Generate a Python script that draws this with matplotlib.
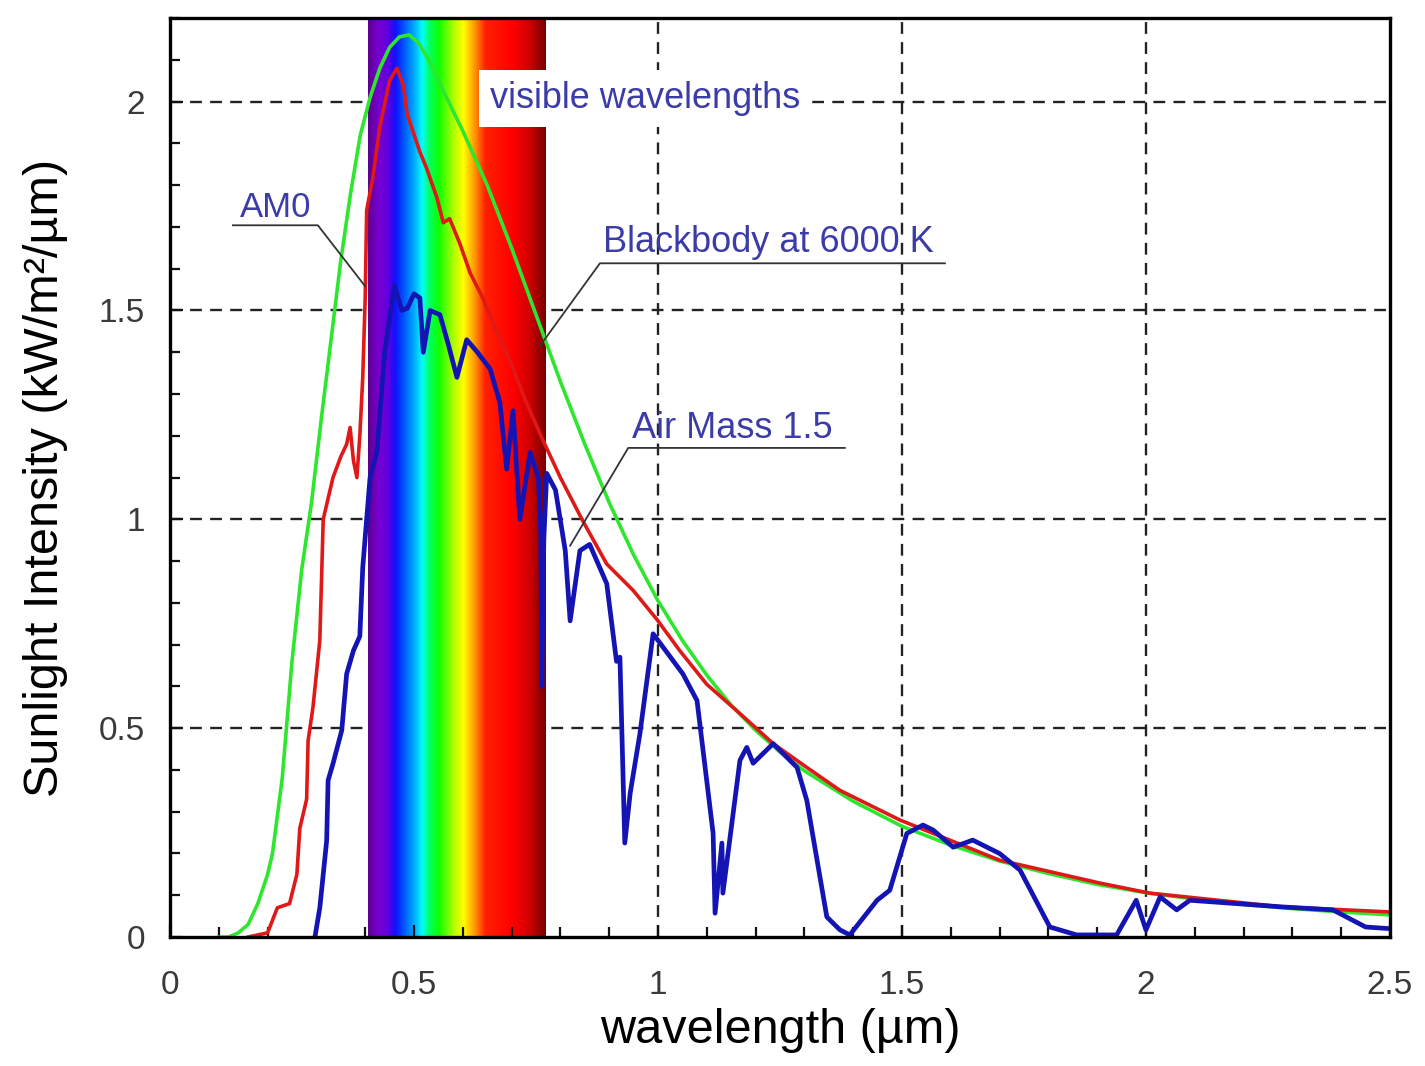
import numpy as np
import matplotlib.pyplot as plt
from matplotlib.colors import LinearSegmentedColormap

plt.rcParams['font.family'] = ['Liberation Sans', 'DejaVu Sans']

# Blackbody at 6000 K
bb_x = [0.10, 0.12, 0.14, 0.16, 0.18, 0.20, 0.21, 0.23, 0.25, 0.27, 0.29, 0.31,
        0.33, 0.35, 0.37, 0.39, 0.41, 0.43, 0.45, 0.47, 0.49, 0.51, 0.53, 0.55,
        0.60, 0.65, 0.70, 0.75, 0.80, 0.85, 0.90, 0.95, 1.00, 1.05, 1.10, 1.15,
        1.20, 1.25, 1.30, 1.40, 1.50, 1.60, 1.70, 1.80, 1.90, 2.00, 2.10, 2.20,
        2.30, 2.40, 2.50]
bb_y = [0.0, 0.0, 0.01, 0.03, 0.08, 0.15, 0.20, 0.38, 0.66, 0.88, 1.04, 1.24,
        1.43, 1.62, 1.78, 1.92, 2.01, 2.08, 2.13, 2.155, 2.16, 2.14, 2.10, 2.05,
        1.93, 1.80, 1.65, 1.49, 1.33, 1.18, 1.04, 0.915, 0.805, 0.71, 0.627, 0.555,
        0.495, 0.443, 0.398, 0.325, 0.265, 0.22, 0.182, 0.152, 0.126, 0.106, 0.091,
        0.078, 0.068, 0.06, 0.053]

# AM0 spectrum
am0_x = [0.16, 0.20, 0.22, 0.245, 0.26, 0.266, 0.28, 0.283, 0.293, 0.307, 0.314,
         0.334, 0.35, 0.362, 0.369, 0.376, 0.383, 0.389, 0.395, 0.400, 0.403,
         0.416, 0.430, 0.450, 0.465, 0.478, 0.486, 0.512, 0.526, 0.547, 0.560,
         0.573, 0.594, 0.615, 0.641, 0.662, 0.70, 0.73, 0.764, 0.80, 0.846, 0.895,
         0.949, 0.998, 1.045, 1.10, 1.168, 1.236, 1.305, 1.373, 1.496, 1.70, 1.906,
         2.008, 2.28, 2.50]
am0_y = [0.0, 0.01, 0.07, 0.08, 0.15, 0.26, 0.33, 0.47, 0.55, 0.71, 1.0,
         1.10, 1.15, 1.18, 1.22, 1.14, 1.10, 1.20, 1.34, 1.53, 1.74,
         1.82, 1.94, 2.05, 2.08, 2.04, 1.97, 1.88, 1.84, 1.77, 1.71,
         1.72, 1.66, 1.59, 1.53, 1.47, 1.37, 1.28, 1.19, 1.10, 0.996, 0.893,
         0.83, 0.76, 0.685, 0.605, 0.535, 0.463, 0.406, 0.351, 0.28, 0.184, 0.129,
         0.105, 0.072, 0.06]

# Air Mass 1.5 spectrum
am15_x = [0.297, 0.307, 0.314, 0.321, 0.324, 0.334, 0.352, 0.362, 0.376, 0.389,
          0.395, 0.403, 0.41, 0.424, 0.44, 0.46, 0.475, 0.486, 0.50, 0.512, 0.519,
          0.533, 0.553, 0.57, 0.588, 0.608, 0.63, 0.656, 0.676, 0.69, 0.703, 0.717,
          0.738, 0.755, 0.760, 0.762, 0.766, 0.772, 0.79, 0.81, 0.82, 0.84, 0.86,
          0.895, 0.915, 0.922, 0.932, 0.943, 0.963, 0.99, 1.051, 1.08, 1.113, 1.117,
          1.131, 1.133, 1.168, 1.182, 1.195, 1.236, 1.285, 1.305, 1.346, 1.373,
          1.393, 1.449, 1.475, 1.51, 1.543, 1.564, 1.605, 1.645, 1.70, 1.742, 1.803,
          1.858, 1.94, 1.98, 2.0, 2.029, 2.063, 2.09, 2.28, 2.383, 2.45, 2.5]
am15_y = [0.0, 0.07, 0.15, 0.23, 0.375, 0.415, 0.495, 0.63, 0.686, 0.72,
          0.885, 1.0, 1.10, 1.16, 1.40, 1.56, 1.50, 1.505, 1.54, 1.53, 1.40,
          1.50, 1.49, 1.42, 1.34, 1.43, 1.40, 1.36, 1.28, 1.12, 1.26, 1.00,
          1.16, 1.10, 0.96, 0.60, 0.95, 1.11, 1.07, 0.925, 0.757, 0.925, 0.94,
          0.846, 0.66, 0.67, 0.225, 0.344, 0.487, 0.726, 0.63, 0.566, 0.248, 0.057,
          0.225, 0.105, 0.423, 0.454, 0.416, 0.463, 0.406, 0.327, 0.048, 0.017,
          0.005, 0.088, 0.112, 0.248, 0.268, 0.256, 0.215, 0.232, 0.20, 0.16, 0.024,
          0.005, 0.005, 0.088, 0.017, 0.096, 0.065, 0.088, 0.072, 0.065, 0.024, 0.02]

visible_range = [0.405, 0.768]

# rainbow stops inside the visible band (wavelength, colour)
band_stops = [(0.405, '#5c0090'), (0.425, '#7800d0'), (0.445, '#6000e0'),
              (0.46, '#1010ff'), (0.48, '#0060ff'), (0.50, '#00b0ff'),
              (0.515, '#00ffff'), (0.53, '#00ff60'), (0.55, '#10ff00'),
              (0.58, '#b0ff00'), (0.60, '#ffff00'), (0.62, '#ffa500'),
              (0.645, '#ff2000'), (0.70, '#ff0000'), (0.735, '#d00000'),
              (0.768, '#780000')]

fig = plt.figure(figsize=(14.25, 10.66), dpi=100)
ax = fig.add_axes([0.1193, 0.121, 0.8561, 0.862])
ax.set_xlim(0, 2.5)
ax.set_ylim(0, 2.2)

# dashed grid drawn under the band
for gx in [0.5, 1.0, 1.5, 2.0]:
    ax.axvline(gx, color='#222222', lw=1.7, ls=(0, (5, 3.5)), zorder=0.8)
for gy in [0.5, 1.0, 1.5, 2.0]:
    ax.axhline(gy, color='#222222', lw=1.7, ls=(0, (5, 3.5)), zorder=0.8)

# visible band as a gradient image
lo, hi = visible_range
cmap = LinearSegmentedColormap.from_list(
    'vis', [((w - lo) / (hi - lo), c) for w, c in band_stops])
wl = np.linspace(lo, hi, 400).reshape(1, -1)
ax.imshow(wl, cmap=cmap, vmin=lo, vmax=hi, aspect='auto',
          extent=[lo, hi, 0, 2.2], origin='lower', zorder=1, interpolation='bilinear')

ax.plot(bb_x, bb_y, color='#2ee62e', lw=2.6, zorder=3)
ax.plot(am0_x, am0_y, color='#e01818', lw=2.6, zorder=4)
ax.plot(am15_x, am15_y, color='#1414b4', lw=3.4, zorder=5)

# labels with underline + leader
lab_color = '#3c3ca8'
lead = dict(color='#333333', lw=1.3, zorder=6)

ax.text(0.143, 1.725, 'AM0', color=lab_color, fontsize=25, zorder=7)
ax.plot([0.129, 0.303, 0.40], [1.704, 1.704, 1.558], **lead)

ax.text(0.887, 1.64, 'Blackbody at 6000 K', color=lab_color, fontsize=26, zorder=7)
ax.plot([1.588, 0.881, 0.758], [1.613, 1.613, 1.415], **lead)

ax.text(0.947, 1.195, 'Air Mass 1.5', color=lab_color, fontsize=26, zorder=7)
ax.plot([1.383, 0.939, 0.82], [1.171, 1.171, 0.937], **lead)

ax.text(0.656, 2.007, 'visible wavelengths', color=lab_color, fontsize=26,
        va='center', zorder=7,
        bbox=dict(facecolor='white', edgecolor='none', pad=8))

# axes styling
for side in ['left', 'right', 'top', 'bottom']:
    ax.spines[side].set_linewidth(2.4)
    ax.spines[side].set_zorder(8)
ax.set_xticks([0, 0.5, 1, 1.5, 2, 2.5])
ax.set_xticklabels(['0', '0.5', '1', '1.5', '2', '2.5'])
ax.set_yticks([0, 0.5, 1, 1.5, 2])
ax.set_yticklabels(['0', '0.5', '1', '1.5', '2'])
ax.set_xticks(np.arange(0, 2.51, 0.1), minor=True)
ax.set_yticks(np.arange(0, 2.21, 0.1), minor=True)
ax.tick_params(which='both', direction='in', width=1.6, colors='#111111',
               labelcolor='#3a3a3a', labelsize=24)
ax.tick_params(axis='x', which='both', pad=24)
ax.tick_params(axis='y', which='both', pad=18)
ax.tick_params(which='major', length=9)
ax.tick_params(which='minor', length=7)

ax.set_xlabel('wavelength (µm)', fontsize=35)
ax.xaxis.set_label_coords(0.5, -0.077)
ax.xaxis.label.set_va('top')
ax.set_ylabel('Sunlight Intensity (kW/m²/µm)', fontsize=35)
ax.yaxis.set_label_coords(-0.084, 0.5)

fig.savefig('out.png', dpi=100)
